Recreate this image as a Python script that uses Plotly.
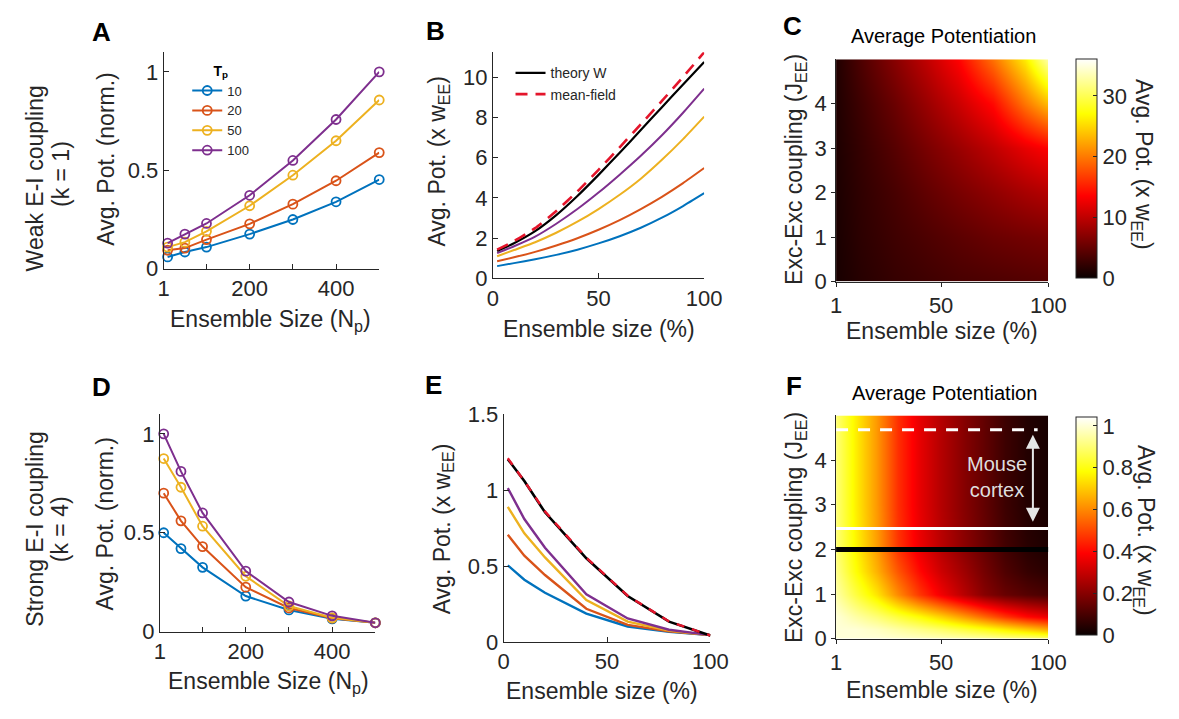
import plotly.graph_objects as go

W, H = 1179, 719
FONT = "Liberation Sans, Arial, Helvetica, sans-serif"
INK = "#262626"


def px(x):
    return x / W


def py(y):
    return 1 - y / H


# ---------------- data ----------------
# Ensemble sizes (number of neurons) and pattern durations T_p
ensemble_np = [10, 50, 100, 200, 300, 400, 500]
tp_labels = ["10", "20", "50", "100"]
tp_colors = ["#0072BD", "#D95319", "#EDB120", "#7E2F8E"]

# A: weak E-I coupling, normalised average potentiation
weak_tp10 = [0.06, 0.085, 0.11, 0.176, 0.25, 0.34, 0.453]
weak_tp20 = [0.094, 0.105, 0.148, 0.228, 0.328, 0.447, 0.59]
weak_tp50 = [0.11, 0.135, 0.19, 0.32, 0.475, 0.65, 0.857]
weak_tp100 = [0.13, 0.176, 0.23, 0.373, 0.55, 0.758, 1.0]

# D: strong E-I coupling, normalised average potentiation
strong_tp10 = [0.50, 0.42, 0.325, 0.18, 0.11, 0.065, 0.045]
strong_tp20 = [0.70, 0.56, 0.43, 0.225, 0.12, 0.068, 0.045]
strong_tp50 = [0.875, 0.73, 0.533, 0.28, 0.13, 0.07, 0.045]
strong_tp100 = [1.0, 0.81, 0.60, 0.306, 0.15, 0.08, 0.045]

# B: weak coupling, potentiation in units of w_EE vs ensemble size (%)
pct_weak = [2, 10, 20, 30, 40, 50, 60, 70, 80, 90, 100]
weak_pct_tp10 = [0.61, 0.76, 0.95, 1.17, 1.43, 1.74, 2.1, 2.52, 3.02, 3.6, 4.24]
weak_pct_tp20 = [0.85, 1.05, 1.32, 1.64, 2.0, 2.42, 2.9, 3.45, 4.06, 4.74, 5.49]
weak_pct_tp50 = [1.1, 1.41, 1.8, 2.27, 2.82, 3.45, 4.16, 4.96, 5.9, 6.93, 8.05]
weak_pct_tp100 = [1.26, 1.6, 2.08, 2.72, 3.45, 4.27, 5.16, 6.1, 7.12, 8.24, 9.44]
weak_theory_w = [1.36, 1.75, 2.35, 3.15, 4.1, 5.15, 6.25, 7.38, 8.52, 9.65, 10.77]
weak_mean_field = [1.43, 1.85, 2.5, 3.35, 4.33, 5.4, 6.52, 7.67, 8.83, 10.02, 11.25]

# E: strong coupling, potentiation in units of w_EE vs ensemble size (%)
pct_strong = [2, 10, 20, 40, 60, 80, 100]
strong_pct_tp10 = [0.505, 0.41, 0.324, 0.187, 0.102, 0.067, 0.045]
strong_pct_tp20 = [0.706, 0.568, 0.441, 0.219, 0.113, 0.07, 0.045]
strong_pct_tp50 = [0.89, 0.716, 0.557, 0.276, 0.134, 0.075, 0.045]
strong_pct_tp100 = [1.013, 0.81, 0.621, 0.314, 0.155, 0.081, 0.045]
strong_theory_w = [1.204, 1.06, 0.854, 0.551, 0.303, 0.134, 0.043]
strong_mean_field = [1.21, 1.06, 0.86, 0.555, 0.305, 0.135, 0.043]

# C: average potentiation map, weak coupling (x w_EE)
map_weak_pct = [1, 12, 28, 43, 58, 74, 89, 100]
map_weak_jee = [0, 1, 2, 3, 4, 5]
map_weak_z = [
    [0.8, 1.6, 2.4, 2.9, 3.4, 3.7, 4.0, 4.2],
    [0.9, 1.9, 2.9, 3.7, 4.5, 5.3, 5.8, 6.1],
    [1.0, 2.1, 3.4, 4.8, 6.1, 7.4, 8.7, 9.4],
    [1.1, 2.4, 4.2, 6.1, 7.9, 10.0, 12.2, 13.5],
    [1.2, 2.9, 5.3, 7.9, 10.6, 14.0, 19.8, 23.5],
    [1.3, 3.7, 6.9, 10.0, 13.5, 19.5, 26.0, 33.0],
]

# F: average potentiation map, strong coupling (x w_EE)
map_strong_pct = [1, 10, 20, 30, 40, 50, 60, 70, 80, 90, 100]
map_strong_jee = [0, 0.2, 0.5, 1, 1.5, 2, 3, 4, 5]
map_strong_z = [
    [1.0, 1.0, 1.0, 0.99, 0.98, 0.97, 0.96, 0.95, 0.93, 0.92, 0.9],
    [1.0, 1.0, 0.98, 0.95, 0.92, 0.89, 0.85, 0.81, 0.76, 0.71, 0.66],
    [1.0, 0.95, 0.9, 0.84, 0.78, 0.71, 0.63, 0.55, 0.47, 0.4, 0.36],
    [0.95, 0.85, 0.74, 0.6, 0.47, 0.37, 0.28, 0.2, 0.15, 0.12, 0.1],
    [0.92, 0.79, 0.66, 0.52, 0.4, 0.31, 0.24, 0.17, 0.11, 0.07, 0.05],
    [0.9, 0.77, 0.63, 0.47, 0.36, 0.28, 0.21, 0.15, 0.09, 0.05, 0.03],
    [0.9, 0.76, 0.62, 0.46, 0.35, 0.27, 0.2, 0.14, 0.08, 0.04, 0.02],
    [0.9, 0.76, 0.62, 0.46, 0.35, 0.27, 0.2, 0.14, 0.08, 0.04, 0.02],
    [0.9, 0.76, 0.62, 0.46, 0.35, 0.27, 0.2, 0.14, 0.08, 0.04, 0.02],
]

# Reference couplings drawn on map F
jee_reference = 2.0
jee_mouse_low = 2.47
jee_mouse_high = 4.68
mouse_dash_end_pct = 95
mouse_arrow_pct = 92.8

# MATLAB-style "hot" colour map
hot_scale = [
    [0.0, "rgb(10,0,0)"],
    [0.375, "rgb(255,0,0)"],
    [0.75, "rgb(255,255,0)"],
    [1.0, "rgb(255,255,255)"],
]

fig = go.Figure()

weak_sets = [weak_tp10, weak_tp20, weak_tp50, weak_tp100]
strong_sets = [strong_tp10, strong_tp20, strong_tp50, strong_tp100]
weak_pct_sets = [weak_pct_tp10, weak_pct_tp20, weak_pct_tp50, weak_pct_tp100]
strong_pct_sets = [strong_pct_tp10, strong_pct_tp20, strong_pct_tp50, strong_pct_tp100]

# A and D: lines with open circles
for lab, col, ys in zip(tp_labels, tp_colors, weak_sets):
    fig.add_trace(go.Scatter(
        x=ensemble_np, y=ys, mode="lines+markers", name=lab,
        line=dict(color=col, width=2),
        marker=dict(symbol="circle-open", size=9, color=col, line=dict(width=1.8)),
        xaxis="x", yaxis="y", legend="legend", cliponaxis=False,
    ))
for lab, col, ys in zip(tp_labels, tp_colors, strong_sets):
    fig.add_trace(go.Scatter(
        x=ensemble_np, y=ys, mode="lines+markers", name=lab, showlegend=False,
        line=dict(color=col, width=2),
        marker=dict(symbol="circle-open", size=9, color=col, line=dict(width=1.8)),
        xaxis="x4", yaxis="y4", cliponaxis=False,
    ))

# B and E: curves vs ensemble size in percent
smooth = dict(shape="spline", smoothing=0.5)
for col, ys in zip(tp_colors, weak_pct_sets):
    fig.add_trace(go.Scatter(x=pct_weak, y=ys, mode="lines", showlegend=False,
                             line=dict(color=col, width=2, **smooth),
                             xaxis="x2", yaxis="y2"))
fig.add_trace(go.Scatter(x=pct_weak, y=weak_theory_w, mode="lines", name="theory W",
                         line=dict(color="black", width=2.2, **smooth),
                         xaxis="x2", yaxis="y2", legend="legend2"))
fig.add_trace(go.Scatter(x=pct_weak, y=weak_mean_field, mode="lines", name="mean-field",
                         line=dict(color="#E4152B", width=2.6, dash="12px,8px", **smooth),
                         xaxis="x2", yaxis="y2", legend="legend2", cliponaxis=False))

for col, ys in zip(tp_colors, strong_pct_sets):
    fig.add_trace(go.Scatter(x=pct_strong, y=ys, mode="lines", showlegend=False,
                             line=dict(color=col, width=2.4), xaxis="x5", yaxis="y5"))
fig.add_trace(go.Scatter(x=pct_strong, y=strong_theory_w, mode="lines", showlegend=False,
                         line=dict(color="black", width=2.6), xaxis="x5", yaxis="y5"))
fig.add_trace(go.Scatter(x=pct_strong, y=strong_mean_field, mode="lines", showlegend=False,
                         line=dict(color="#E4152B", width=2.4, dash="8px,8px"),
                         xaxis="x5", yaxis="y5"))

# C and F: heat maps
fig.add_trace(go.Heatmap(
    x=map_weak_pct, y=map_weak_jee, z=map_weak_z, zsmooth="best",
    colorscale=hot_scale, zmin=0, zmax=36, xaxis="x3", yaxis="y3",
    colorbar=dict(
        x=px(1092), xanchor="left", xpad=0, y=py(162.5), yanchor="middle", ypad=0,
        len=227 / H, lenmode="fraction", thickness=21,
        outlinecolor=INK, outlinewidth=1,
        tickvals=[0, 10, 20, 30], ticks="inside", ticklen=4, tickcolor=INK,
        tickfont=dict(size=22, color=INK, family=FONT),
    ),
))
fig.add_trace(go.Heatmap(
    x=map_strong_pct, y=map_strong_jee, z=map_strong_z, zsmooth="best",
    colorscale=hot_scale, zmin=0, zmax=1.04, xaxis="x6", yaxis="y6",
    colorbar=dict(
        x=px(1092), xanchor="left", xpad=0, y=py(533), yanchor="middle", ypad=0,
        len=226 / H, lenmode="fraction", thickness=21,
        outlinecolor=INK, outlinewidth=1,
        tickvals=[0, 0.2, 0.4, 0.6, 0.8, 1], ticktext=["0", "0.2", "0.4", "0.6", "0.8", "1"],
        ticks="inside", ticklen=4, tickcolor=INK,
        tickfont=dict(size=22, color=INK, family=FONT),
    ),
))

# Reference lines on F
fig.add_trace(go.Scatter(x=[1, mouse_dash_end_pct], y=[jee_mouse_high, jee_mouse_high],
                         mode="lines", showlegend=False,
                         line=dict(color="white", width=3, dash="12px,10px"),
                         xaxis="x6", yaxis="y6"))
fig.add_trace(go.Scatter(x=[1, 100], y=[jee_mouse_low, jee_mouse_low], mode="lines",
                         showlegend=False, line=dict(color="white", width=3),
                         xaxis="x6", yaxis="y6"))
fig.add_trace(go.Scatter(x=[1, 100], y=[jee_reference, jee_reference], mode="lines",
                         showlegend=False, line=dict(color="black", width=5),
                         xaxis="x6", yaxis="y6"))


def line_axis(lo, hi, rng, tickvals, ticktext, anchor):
    return dict(
        domain=[lo, hi], range=rng, tickvals=tickvals, ticktext=ticktext,
        ticks="inside", ticklen=5, tickwidth=1, tickcolor=INK,
        showline=True, linecolor=INK, linewidth=1, showgrid=False, zeroline=False,
        tickfont=dict(size=22, color=INK, family=FONT), anchor=anchor,
    )


def map_axis(lo, hi, rng, tickvals, ticktext, anchor):
    d = line_axis(lo, hi, rng, tickvals, ticktext, anchor)
    d.update(ticks="outside", ticklen=4)
    return d


np_ticks = [1, 100, 200, 300, 400, 500]
np_text = ["1", "", "200", "", "400", ""]

layout_axes = dict(
    xaxis=line_axis(px(161), px(381), [1, 500], np_ticks, np_text, "y"),
    yaxis=line_axis(py(266), py(41.6), [0, 1.1], [0, 0.5, 1], ["0", "0.5", "1"], "x"),
    xaxis2=line_axis(px(497), px(712.7), [0, 100], [0, 50, 100], ["0", "50", "100"], "y2"),
    yaxis2=line_axis(py(276), py(41.7), [0, 11.25], [0, 2, 4, 6, 8, 10],
                     ["0", "2", "4", "6", "8", "10"], "x2"),
    xaxis3=map_axis(px(847.3), px(1064), [1, 100], [1, 50, 100], ["1", "50", "100"], "y3"),
    yaxis3=map_axis(py(279.3), py(49), [0, 5], [0, 1, 2, 3, 4], ["0", "1", "2", "3", "4"], "x3"),
    xaxis4=line_axis(px(157), px(377), [1, 500], np_ticks, np_text, "y4"),
    yaxis4=line_axis(py(642), py(416.5), [0, 1.1], [0, 0.5, 1], ["0", "0.5", "1"], "x4"),
    xaxis5=line_axis(px(508), px(719), [0, 100], [0, 50, 100], ["0", "50", "100"], "y5"),
    yaxis5=line_axis(py(652.7), py(416.7), [0, 1.5], [0, 0.5, 1, 1.5],
                     ["0", "0.5", "1", "1.5"], "x5"),
    xaxis6=map_axis(px(847.3), px(1064), [1, 100], [1, 50, 100], ["1", "50", "100"], "y6"),
    yaxis6=map_axis(py(649.3), py(418), [0, 5], [0, 1, 2, 3, 4], ["0", "1", "2", "3", "4"], "x6"),
)


def note(text, x, y, size=23, angle=0, bold=False, color=INK):
    if bold:
        text = "<b>" + text + "</b>"
    return dict(text=text, x=px(x), y=py(y), xref="paper", yref="paper",
                showarrow=False, textangle=angle, xanchor="center", yanchor="middle",
                font=dict(size=size, color=color, family=FONT))


annotations = [
    # row labels
    note("Weak E-I coupling", 30, 172, angle=-90),
    note("(k = 1)", 56, 168, angle=-90),
    note("Strong E-I coupling", 30, 535, angle=-90),
    note("(k = 4)", 56, 536, angle=-90),
    # panel letters
    note("A", 97, 21, size=26, bold=True, color="black"),
    note("B", 438, 20, size=26, bold=True, color="black"),
    note("C", 803, 15, size=26, bold=True, color="black"),
    note("D", 97, 388, size=26, bold=True, color="black"),
    note("E", 436, 386, size=26, bold=True, color="black"),
    note("F", 804, 387, size=26, bold=True, color="black"),
    # axis titles
    note("Avg. Pot. (norm.)", 102, 152, angle=-90),
    note("Ensemble Size (N<sub>p</sub>)", 270, 320),
    note("Avg. Pot. (x w<sub>EE</sub>)", 442, 155, angle=-90),
    note("Ensemble size (%)", 605, 328),
    note("Exc-Exc coupling (J<sub>EE</sub>)", 806, 163, angle=-90),
    note("Ensemble size (%)", 955, 330),
    note("Average Potentiation", 957, 25, size=20, color="black"),
    note("Avg. Pot. (x w<sub>EE</sub>)", 1160, 158, angle=90),
    note("Avg. Pot. (norm.)", 101, 530, angle=-90),
    note("Ensemble Size (N<sub>p</sub>)", 268, 695),
    note("Avg. Pot. (x w<sub>EE</sub>)", 446, 535, angle=-90),
    note("Ensemble size (%)", 608, 703),
    note("Exc-Exc coupling (J<sub>EE</sub>)", 806, 534, angle=-90),
    note("Ensemble size (%)", 955, 702),
    note("Average Potentiation", 958, 395, size=20, color="black"),
    note("Avg. Pot. (x w<sub>EE</sub>)", 1162, 537, angle=90),
    # mouse cortex range on F
    dict(text="Mouse<br>cortex", x=76, y=3.63, xref="x6", yref="y6", showarrow=False,
         font=dict(size=20, color="#dedede", family=FONT)),
    dict(text="", x=mouse_arrow_pct, y=2.62, ax=mouse_arrow_pct, ay=4.6,
         xref="x6", yref="y6", axref="x6", ayref="y6", showarrow=True,
         arrowside="end+start", arrowhead=2, startarrowhead=2,
         arrowsize=1.4, startarrowsize=1.4, arrowwidth=2, arrowcolor="#e6e6e6"),
]

fig.update_layout(
    width=W, height=H,
    margin=dict(l=0, r=0, t=0, b=0),
    paper_bgcolor="white", plot_bgcolor="white",
    font=dict(family=FONT, color=INK),
    annotations=annotations,
    legend=dict(
        x=px(185), y=py(47), xanchor="left", yanchor="top",
        bgcolor="rgba(0,0,0,0)", borderwidth=0,
        font=dict(size=13, color=INK, family=FONT),
        title=dict(text="<b>T<sub>p</sub></b>", side="top center",
                   font=dict(size=14, color="black", family=FONT)),
        tracegroupgap=0, itemwidth=30,
    ),
    legend2=dict(
        x=px(515), y=py(47), xanchor="left", yanchor="top",
        bgcolor="rgba(0,0,0,0)", borderwidth=0,
        font=dict(size=14, color=INK, family=FONT),
        tracegroupgap=0, itemwidth=30,
    ),
    **layout_axes,
)

fig.write_html("out.html")
